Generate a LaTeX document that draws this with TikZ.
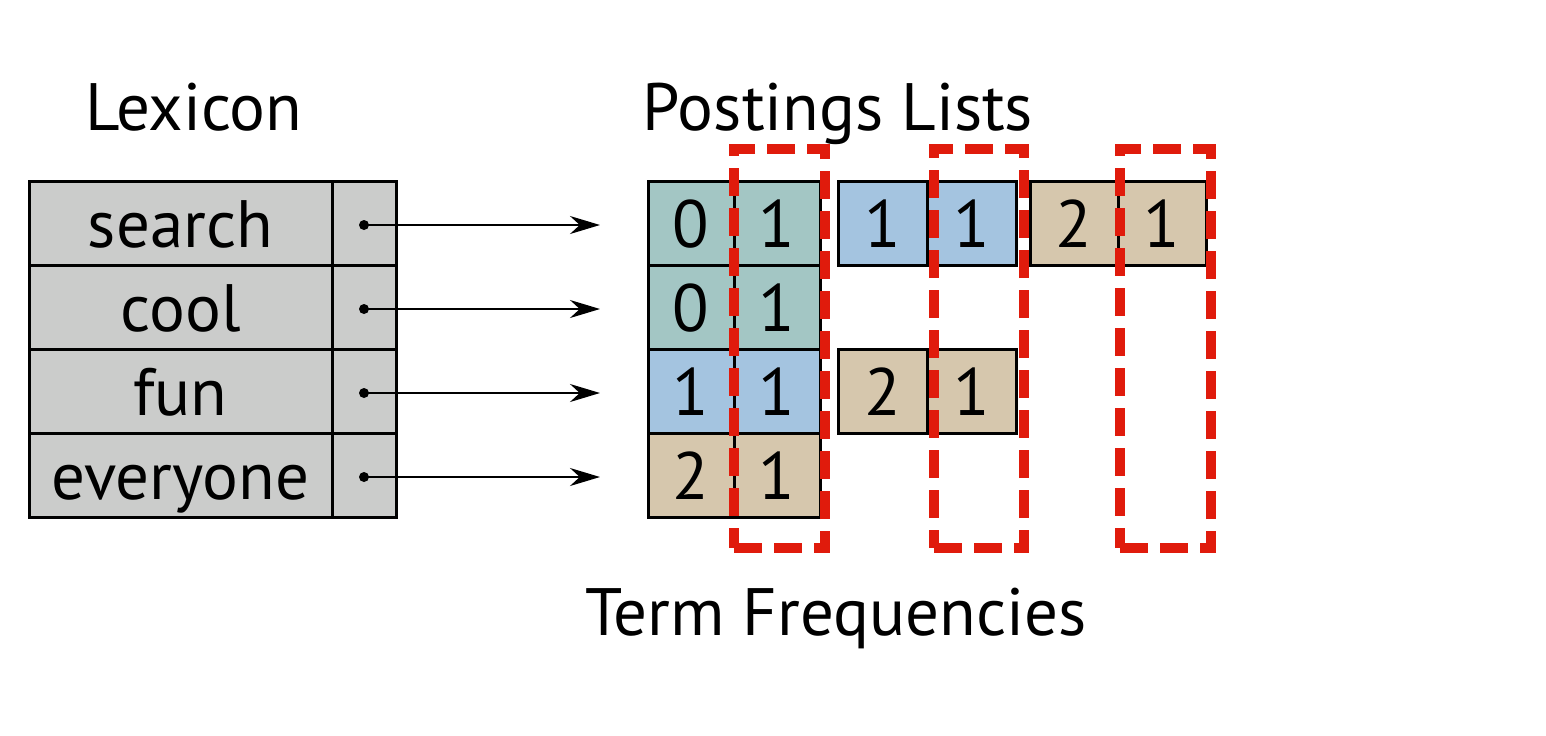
\documentclass[tikz,border=0pt]{standalone}
\usepackage{fontspec}
\setmainfont{PT Sans}
\usetikzlibrary{arrows.meta}
\definecolor{lexgray}{HTML}{CBCCCB}
\definecolor{teal}{HTML}{A3C6C4}
\definecolor{lblue}{HTML}{A4C4E0}
\definecolor{tan}{HTML}{D6C7AD}
\definecolor{tfred}{HTML}{E01B0C}
\tikzset{
  cell/.style={draw=black, line width=1.5pt, inner sep=0pt, minimum height=42pt,
    text height=24pt, text depth=0pt, font=\fontsize{33.5}{40}\selectfont},
  title/.style={anchor=base, inner sep=0pt, font=\fontsize{33.5}{40}\selectfont},
  tfbox/.style={draw=tfred, line width=5pt, dash pattern=on 14pt off 6pt, inner sep=0pt},
  ptr/.style={line width=1pt, -{Stealth[length=15pt, width=9pt]}},
  dotc/.style={circle, fill=black, inner sep=0pt, minimum size=5pt}
}
\begin{document}
\begin{tikzpicture}[x=0.5pt, y=-0.5pt]
\useasboundingbox[fill=white] (0,0) rectangle (1546,735);
% titles
\node[title] (lex) at (194,130) {Lexicon};
\node[title] (post) at (838,130) {Postings Lists};
\node[title] (tf) at (836,635) {Term Frequencies};
% lexicon
\foreach \w [count=\i from 0] in {search,cool,fun,everyone}{
  \node[cell, fill=lexgray, minimum width=151.5pt] (w\i) at (180.5,223+84*\i) {\w};
  \node[cell, fill=lexgray, minimum width=32pt] (p\i) at (364,223+84*\i) {};
  \node[dotc] (d\i) at (364,225+84*\i) {};
  \coordinate (e\i) at (600,225+84*\i);
  \draw[ptr] (d\i.center) -- (e\i);
}
% postings block 1
\node[cell, fill=teal, minimum width=43pt] (a00) at (691,223) {0};
\node[cell, fill=teal, minimum width=43pt] (a01) at (777,223) {1};
\node[cell, fill=teal, minimum width=43pt] (a10) at (691,307) {0};
\node[cell, fill=teal, minimum width=43pt] (a11) at (777,307) {1};
\node[cell, fill=lblue, minimum width=43pt] (a20) at (691,391) {1};
\node[cell, fill=lblue, minimum width=43pt] (a21) at (777,391) {1};
\node[cell, fill=tan, minimum width=43pt] (a30) at (691,475) {2};
\node[cell, fill=tan, minimum width=43pt] (a31) at (777,475) {1};
% block 2
\node[cell, fill=lblue, minimum width=44.5pt] (b00) at (882.5,223) {1};
\node[cell, fill=lblue, minimum width=44.5pt] (b01) at (971.5,223) {1};
\node[cell, fill=tan, minimum width=44.5pt] (b20) at (882.5,391) {2};
\node[cell, fill=tan, minimum width=44.5pt] (b21) at (971.5,391) {1};
% block 3
\node[cell, fill=tan, minimum width=44pt] (c00) at (1074,223) {2};
\node[cell, fill=tan, minimum width=44pt] (c01) at (1162,223) {1};
% term frequency boxes
\node[tfbox, minimum width=45.5pt, minimum height=199.5pt] (t1) at (779.5,348.5) {};
\node[tfbox, minimum width=45pt, minimum height=199.5pt] (t2) at (979,348.5) {};
\node[tfbox, minimum width=45.5pt, minimum height=199.5pt] (t3) at (1165.5,348.5) {};
\end{tikzpicture}
\end{document}
